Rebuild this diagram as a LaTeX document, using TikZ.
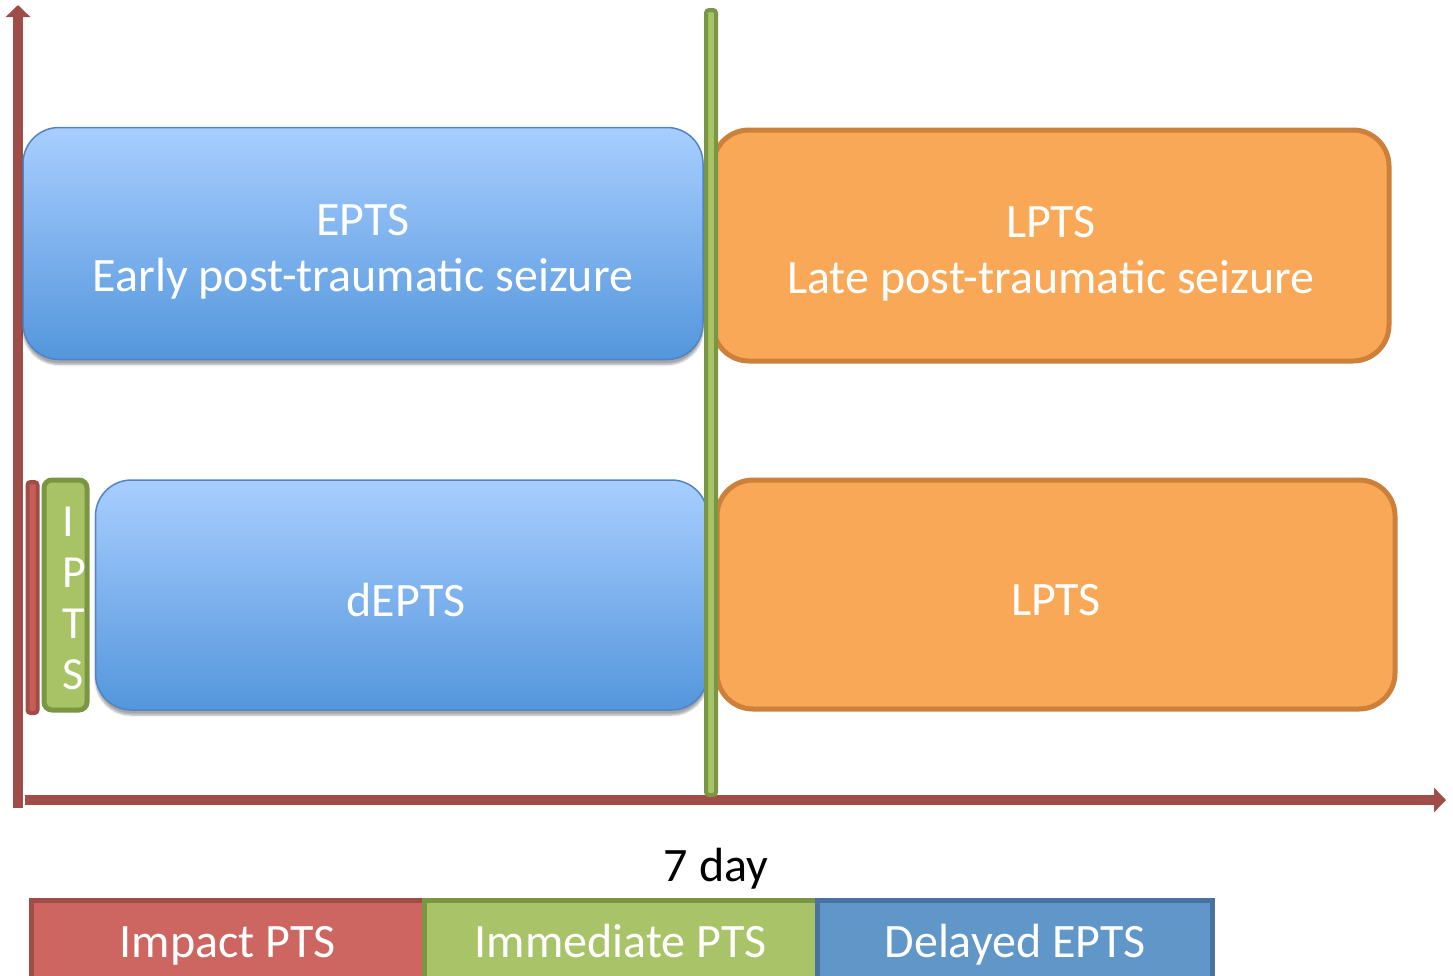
\documentclass[tikz,border=0pt]{standalone}
\usepackage{fontspec}
\setmainfont{Carlito}
\usetikzlibrary{arrows.meta,shadows.blur}
\definecolor{axisred}{RGB}{160,76,72}
\definecolor{barred}{RGB}{200,92,86}
\definecolor{greenfill}{RGB}{168,194,102}
\definecolor{greenline}{RGB}{122,150,68}
\definecolor{bluetop}{RGB}{168,206,255}
\definecolor{bluebot}{RGB}{84,150,220}
\definecolor{blueline}{RGB}{80,132,198}
\definecolor{orangefill}{RGB}{249,168,87}
\definecolor{orangeline}{RGB}{204,128,58}
\definecolor{impactfill}{RGB}{205,102,96}
\definecolor{immfill}{RGB}{169,196,104}
\definecolor{delfill}{RGB}{96,150,200}
\definecolor{delline}{RGB}{72,114,160}
\tikzset{
  bigtext/.style={font=\fontsize{48}{56}\selectfont, text=white, align=center},
  bluebox/.style={rounded corners=36pt, top color=bluetop, bottom color=bluebot, draw=blueline, line width=1.5pt,
    blur shadow={shadow xshift=0pt, shadow yshift=-5pt, shadow opacity=35, shadow blur steps=6}, bigtext, inner sep=0pt},
  orangebox/.style={rounded corners=36pt, fill=orangefill, draw=orangeline, line width=5pt, bigtext, inner sep=0pt},
  legendbox/.style={draw, line width=5pt, bigtext, inner sep=0pt, minimum width=393pt, minimum height=90pt,
    text height=25pt, text depth=0pt},
  axisline/.style={draw=axisred, line width=10pt, -{Triangle[width=24pt,length=12pt]}},
}
\begin{document}
\begin{tikzpicture}[x=1pt,y=-1pt]
\useasboundingbox (0,0) rectangle (1453,975);
\clip (0,0) rectangle (1453,975);
% axes
\coordinate (origin) at (18,808);
\coordinate (ytop) at (18,5);
\coordinate (xstart) at (25,800);
\coordinate (xend) at (1446,800);
\draw[axisline] (origin) -- (ytop);
\draw[axisline] (xstart) -- (xend);
% top boxes
\node[bluebox, minimum width=680pt, minimum height=232pt] (epts) at (363,243.5)
  {\rule{0pt}{47pt}EPTS\\Early post-traumatic seizure};
\node[orangebox, minimum width=676pt, minimum height=231pt] (lpts1) at (1051,245.5)
  {\rule{0pt}{47pt}LPTS\\Late post-traumatic seizure};
% lower boxes
\node[draw=axisred, fill=barred, line width=4pt, rounded corners=3pt, minimum width=10pt, minimum height=231pt, inner sep=0pt] (impactbar) at (32.5,597.5) {};
\node[draw=greenline, fill=greenfill, line width=5pt, rounded corners=8pt, minimum width=43pt, minimum height=230pt, inner sep=0pt,
  font=\fontsize{46}{51}\selectfont, text=white, align=left] (ipts) at (65.5,595)
  {\rule{0pt}{36pt}\hspace*{18pt}I\\\hspace*{18pt}P\\\hspace*{18pt}T\\\hspace*{18pt}S};
\node[bluebox, minimum width=612pt, minimum height=230pt, text height=43pt, text depth=0pt] (depts) at (401.5,595) {\hspace*{9pt}dEPTS};
\node[orangebox, minimum width=678pt, minimum height=229pt, text height=42pt, text depth=0pt] (lpts2) at (1056,594.5) {LPTS};
% 7 day line
\node[draw=greenline, fill=greenfill, line width=4pt, rounded corners=3pt, minimum width=10pt, minimum height=785pt, inner sep=0pt] (seven) at (711,402.5) {};
\node[font=\fontsize{48}{56}\selectfont, text=black, anchor=base] (sevenlbl) at (716,881) {7 day};
% legend
\node[legendbox, draw=axisred, fill=impactfill] (impact) at (227.5,945) {Impact PTS};
\node[legendbox, draw=greenline, fill=immfill] (immediate) at (620.5,945) {Immediate PTS};
\node[legendbox, draw=delline, fill=delfill, minimum width=395pt] (delayed) at (1015,945) {Delayed EPTS};
\end{tikzpicture}
\end{document}
